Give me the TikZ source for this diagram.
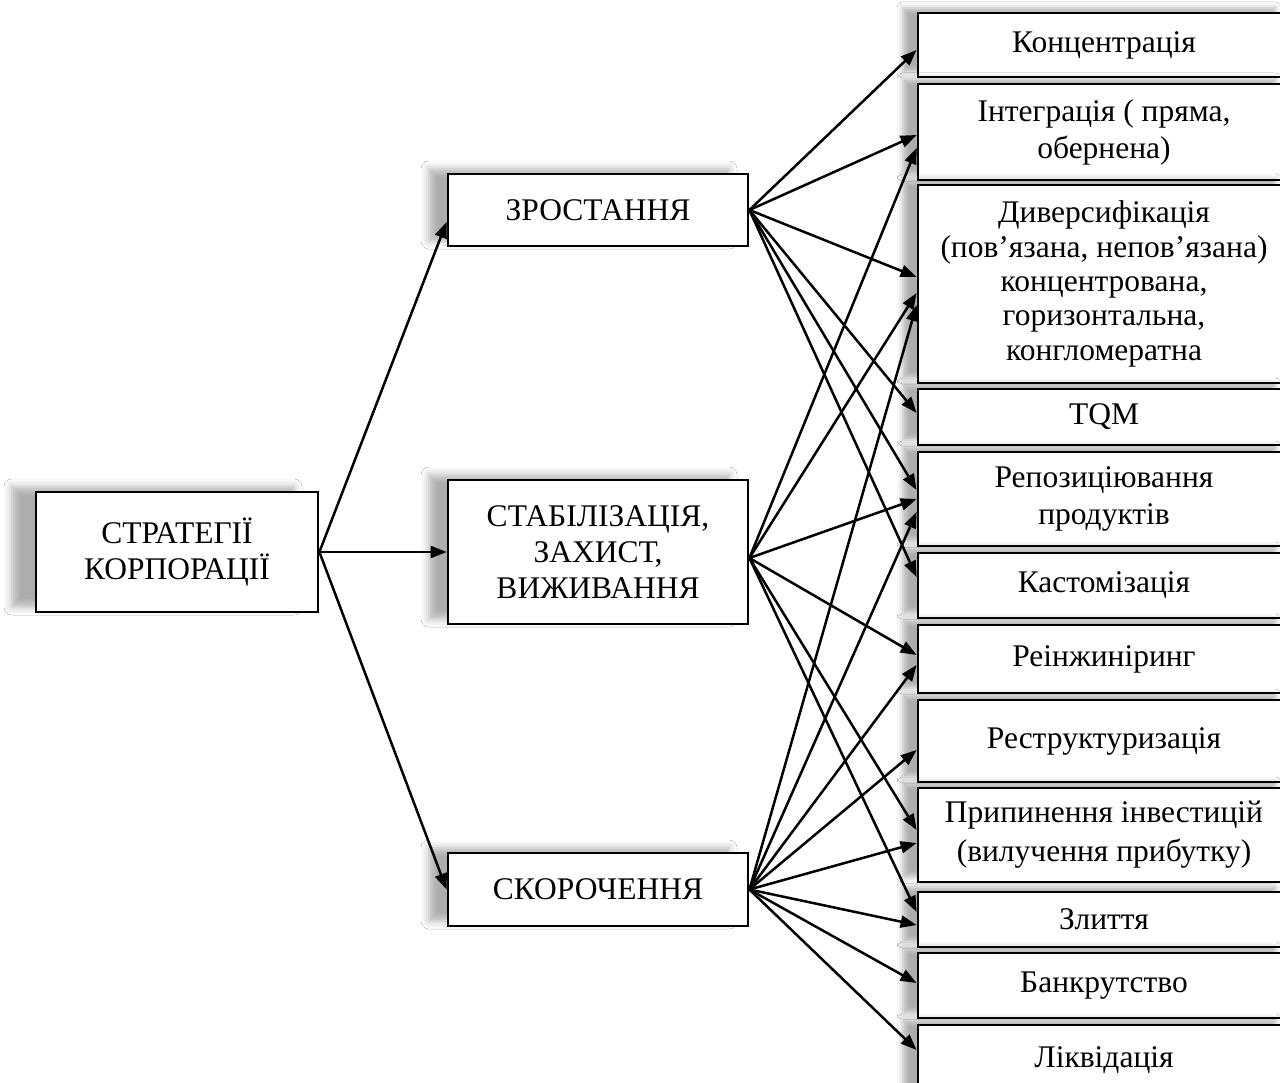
\documentclass[tikz,border=0pt]{standalone}
\usepackage{fontspec}
\setmainfont{Liberation Serif}
\usetikzlibrary{arrows.meta,shadows.blur}
\begin{document}
\begin{tikzpicture}[x=1pt,y=-1pt,
  box/.style={draw=black, line width=2.8pt, fill=white, inner sep=0pt, align=center,
    font=\fontsize{31.5}{36}\selectfont},
  shl/.style={blur shadow={shadow xshift=-24pt, shadow yshift=5pt, shadow blur radius=8pt, shadow opacity=32}},
  shm/.style={blur shadow={shadow xshift=-19pt, shadow yshift=5pt, shadow blur radius=8pt, shadow opacity=32}},
  shr/.style={blur shadow={shadow xshift=-15pt, shadow yshift=5pt, shadow blur radius=6pt, shadow opacity=32}},
  rbox/.style={box, shr, minimum width=372pt},
  conn/.style={line width=2.5pt, -{Triangle[length=16pt,width=12pt]}},
]
\useasboundingbox (0,0) rectangle (1280,1083);
\fill[white] (0,0) rectangle (1280,1083);

% left and middle boxes
\node[box, shl, minimum width=282pt, minimum height=120pt] (l) at (177,552) {СТРАТЕГІЇ\\КОРПОРАЦІЇ};
\node[box, shm, minimum width=300pt, minimum height=72pt] (z) at (598,210) {ЗРОСТАННЯ};
\node[box, shm, minimum width=300pt, minimum height=144pt] (s) at (598,552) {СТАБІЛІЗАЦІЯ,\\ЗАХИСТ,\\ВИЖИВАННЯ};
\node[box, shm, minimum width=300pt, minimum height=73pt] (k) at (598,889.5) {СКОРОЧЕННЯ};

% right column
\node[rbox, minimum height=64pt] (r1) at (1104,45) {Концентрація};
\node[rbox, minimum height=96pt, font=\fontsize{31.5}{37}\selectfont] (r2) at (1104,132) {Інтеграція ( пряма,\\обернена)};
\node[rbox, minimum height=198pt, font=\fontsize{31.5}{34.3}\selectfont] (r3) at (1104,284) {Диверсифікація\\(пов’язана, непов’язана)\\концентрована,\\горизонтальна,\\конгломератна};
\node[rbox, minimum height=56pt] (r4) at (1104,417) {TQM};
\node[rbox, minimum height=94pt, font=\fontsize{31.5}{37}\selectfont] (r5) at (1104,499) {Репозиціювання\\продуктів};
\node[rbox, minimum height=65pt] (r6) at (1104,585.5) {Кастомізація};
\node[rbox, minimum height=68pt] (r7) at (1104,659) {Реінжиніринг};
\node[rbox, minimum height=82pt] (r8) at (1104,741) {Реструктуризація};
\node[rbox, minimum height=94pt, font=\fontsize{31.5}{39}\selectfont] (r9) at (1104,835) {Припинення інвестицій\\(вилучення прибутку)};
\node[rbox, minimum height=55pt] (r10) at (1104,919.5) {Злиття};
\node[rbox, minimum height=65pt] (r11) at (1104,985.5) {Банкрутство};
\node[rbox, minimum height=70pt] (r12) at (1104,1060) {Ліквідація};

% from main box
\draw[conn] (l.east) -- ([yshift=-12pt]z.west);
\draw[conn] (l.east) -- (s.west);
\draw[conn] (l.east) -- (k.west);

% from growth
\draw[conn] (z.east) -- ([yshift=-5pt]r1.west);
\draw[conn] (z.east) -- ([yshift=-3pt]r2.west);
\draw[conn] (z.east) -- ([yshift=7pt]r3.west);
\draw[conn] (z.east) -- ([yshift=4pt]r4.west);
\draw[conn] (z.east) -- ([yshift=9pt]r5.west);
\draw[conn] (z.east) -- ([yshift=8.5pt]r6.west);

% from stabilisation
\coordinate (so) at ([yshift=-6pt]s.east);
\draw[conn] (so) -- ([yshift=-16pt]r2.west);
\draw[conn] (so) -- ([yshift=-9pt]r3.west);
\draw[conn] (so) -- (r5.west);
\draw[conn] (so) -- ([yshift=4pt]r7.west);
\draw[conn] (so) -- ([yshift=5pt]r9.west);
\draw[conn] (so) -- ([yshift=7.5pt]r10.west);

% from reduction
\draw[conn] (k.east) -- ([yshift=-21pt]r3.west);
\draw[conn] (k.east) -- ([yshift=-13pt]r5.west);
\draw[conn] (k.east) -- ([yshift=-6pt]r7.west);
\draw[conn] (k.east) -- ([yshift=-9pt]r8.west);
\draw[conn] (k.east) -- ([yshift=-8pt]r9.west);
\draw[conn] (k.east) -- ([yshift=-5.5pt]r10.west);
\draw[conn] (k.east) -- ([yshift=2.5pt]r11.west);
\draw[conn] (k.east) -- ([yshift=10pt]r12.west);
\end{tikzpicture}
\end{document}
